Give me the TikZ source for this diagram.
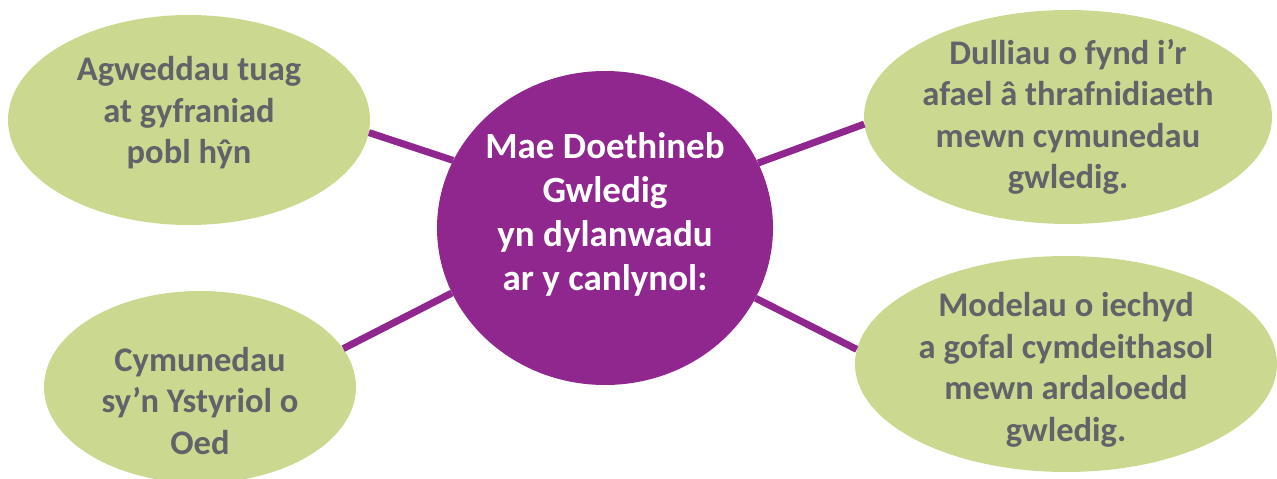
\documentclass[tikz,border=0pt]{standalone}
\usepackage{fontspec}
\setmainfont{Carlito}
\usetikzlibrary{shapes.geometric}
\definecolor{leaf}{RGB}{203,217,144}
\definecolor{plum}{RGB}{143,39,143}
\definecolor{slate}{RGB}{96,99,104}
\tikzset{
  leafbox/.style={ellipse, fill=leaf, draw=none, inner sep=0pt},
  hub/.style={ellipse, fill=plum, draw=none, inner sep=0pt},
  leaftext/.style={align=center, text=slate, font=\fontsize{34.5}{41.5}\selectfont\bfseries, inner sep=0pt},
  hubtext/.style={align=center, text=white, font=\fontsize{37}{44}\selectfont\bfseries, inner sep=0pt},
  link/.style={draw=plum, line width=7pt}
}
\begin{document}
\begin{tikzpicture}[x=1pt,y=-1pt]
\useasboundingbox (0,0) rectangle (1277,479);
\node[hub, minimum width=336pt, minimum height=314pt] (c) at (605,228) {};
\node[leafbox, minimum width=362pt, minimum height=210pt] (tl) at (189,120) {};
\node[leafbox, minimum width=312pt, minimum height=192pt] (bl) at (200,387) {};
\node[leafbox, minimum width=408pt, minimum height=214pt] (tr) at (1068,117) {};
\node[leafbox, minimum width=422pt, minimum height=216pt] (br) at (1066,364) {};
\draw[link] (tl.-4) -- (c.156);
\draw[link] (bl.15) -- (c.203);
\draw[link] (c.23) -- (tr.182);
\draw[link] (c.-25) -- (br.176);
\node[hubtext] (ct) at (605,214) {Mae Doethineb\\Gwledig\\yn dylanwadu\\ar y canlynol:};
\node[leaftext] (tlt) at (189,113) {Agweddau tuag\\at gyfraniad\\pobl hŷn};
\node[leaftext] (blt) at (200,401) {Cymunedau\\sy’n Ystyriol o\\Oed};
\node[leaftext] (trt) at (1068,117) {Dulliau o fynd i’r\\afael â thrafnidiaeth\\mewn cymunedau\\gwledig.};
\node[leaftext] (brt) at (1066,370) {Modelau o iechyd\\a gofal cymdeithasol\\mewn ardaloedd\\gwledig.};
\end{tikzpicture}
\end{document}
